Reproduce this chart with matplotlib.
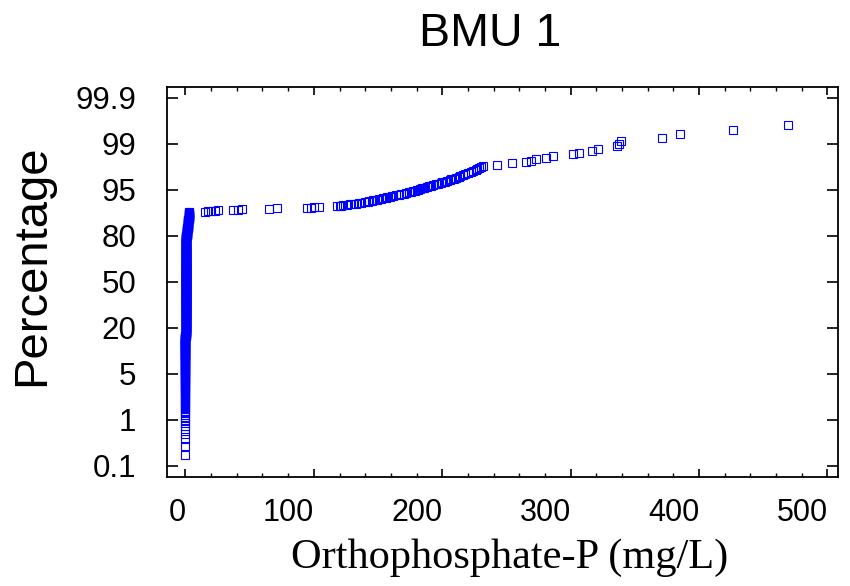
import numpy as np
import matplotlib
matplotlib.use("Agg")
import matplotlib.pyplot as plt
import matplotlib.transforms as mtransforms
from matplotlib.ticker import MultipleLocator
from statistics import NormalDist

# ---------------- data ----------------
title = "BMU 1"
x_label = "Orthophosphate-P (mg/L)"
y_label = "Percentage"
y_tick_labels = ["0.1", "1", "5", "20", "50", "80", "95", "99", "99.9"]
x_ticks = [0, 100, 200, 300, 400, 500]

# cluster of low concentrations (mg/L) and number of samples at each
low_values = [0.0, 0.3, 0.6, 1.2, 1.8, 2.4]
low_counts = [150, 300, 197, 30, 30, 23]

# individually visible higher concentrations (mg/L), sorted
high_values = [
    15, 17.5, 20, 23, 25.3, 36.8, 40.9, 43.8, 65.3, 71, 94.4, 97.7, 100.3, 104.2,
    118, 120, 121, 123, 126, 128, 131, 133, 135, 137, 140, 142, 143, 145, 146,
    147, 149, 151, 152, 154, 156, 157, 159, 161, 162, 164, 166, 168, 170, 172,
    174, 176, 177, 179, 180, 181, 183, 184, 186, 188, 190, 191, 193, 195, 197,
    199, 200, 202, 204, 206, 207, 209, 211, 213, 214, 216, 218, 220, 222, 224,
    226, 227, 229, 230, 232,
    242.4, 254, 265, 268.8, 273, 281, 286, 302, 306.5, 317, 321.5, 336, 337.5,
    339.5, 371, 385, 426.6, 469.5,
]

# samples counted in the plotting positions but outside the drawn window
n_below = 1
n_above = 3

# ---------------- computations ----------------
nd = NormalDist()
values = np.concatenate([np.repeat(low_values, low_counts), np.array(high_values, float)])
n_total = n_below + len(values) + n_above
ranks = n_below + np.arange(1, len(values) + 1)
probs = (ranks - 0.5) / n_total
z = np.array([nd.inv_cdf(p) for p in probs])

ytick_pos = np.linspace(nd.inv_cdf(0.001), nd.inv_cdf(0.999), len(y_tick_labels))

# ---------------- figure ----------------
W, H = 850, 586
fig = plt.figure(figsize=(W / 100, H / 100), dpi=100)
ax = fig.add_axes([166.7 / W, 1 - 476.7 / H, (838 - 166.7) / W, (476.7 - 87.3) / H])

ax.plot(values, z, linestyle="none", marker="s", markersize=5.6,
        markerfacecolor="none", markeredgecolor="#0000FF", markeredgewidth=0.8)

ax.set_xlim(-14.6, 508.2)
ax.set_ylim(-3.27, 3.265)

ax.set_xticks(x_ticks)
ax.xaxis.set_minor_locator(MultipleLocator(20))
ax.set_yticks(ytick_pos)
ax.set_yticklabels(y_tick_labels)

sans = "Liberation Sans"
shift = mtransforms.ScaledTranslation(2 / 100, 0, fig.dpi_scale_trans)
for lab in ax.get_xticklabels():
    lab.set_family(sans)
    lab.set_fontsize(22)
    lab.set_horizontalalignment("right")
    lab.set_transform(lab.get_transform() + shift)
for lab in ax.get_yticklabels():
    lab.set_family(sans)
    lab.set_fontsize(22.5)

ax.tick_params(axis="x", which="major", direction="in", length=5.5, width=1.2,
               top=True, bottom=True, pad=15)
ax.tick_params(axis="x", which="minor", direction="in", length=3, width=1.0,
               top=True, bottom=True)
ax.tick_params(axis="y", which="major", direction="in", length=8, width=1.2,
               left=True, right=True, pad=22)
for s in ax.spines.values():
    s.set_linewidth(1.3)

fig.text(490 / W, 1 - 34 / H, title, family=sans, fontsize=33.5,
         ha="center", va="center")
fig.text(32 / W, 1 - 265 / H, y_label, family=sans, fontsize=34,
         rotation=90, ha="center", va="center")
fig.text(510 / W, 1 - 558 / H, x_label, family="Liberation Serif", fontsize=30.5,
         ha="center", va="center")

fig.savefig("out.png", dpi=100)
